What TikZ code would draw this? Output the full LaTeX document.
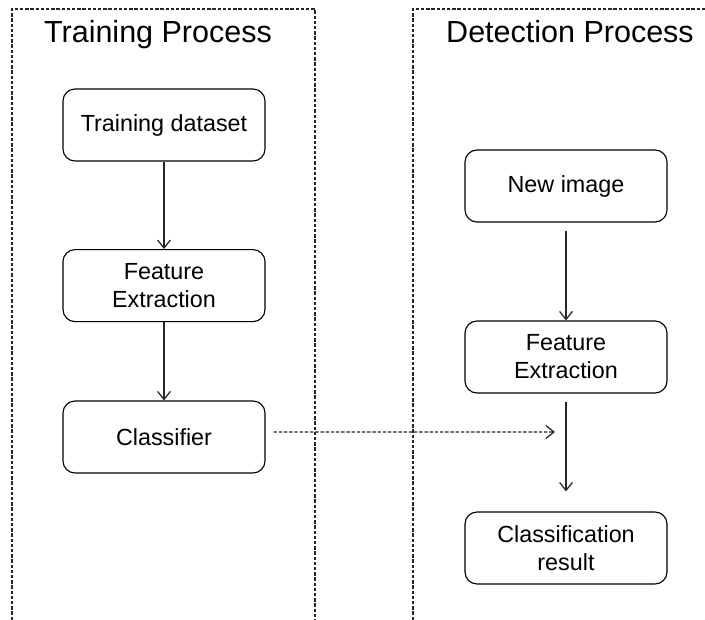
\documentclass[tikz,border=0pt]{standalone}
\usepackage{fontspec}
\setmainfont{Liberation Sans}
\usetikzlibrary{arrows.meta}

\tikzset{
    etape/.style={draw, line width=0.8pt, rounded corners=0.3cm,
        minimum width=5.05cm, minimum height=1.8cm, align=center,
        font=\fontsize{16.6}{19.9}\selectfont},
    cadre/.style={line width=1pt, dash pattern=on 2.4pt off 1.3pt, black!85},
    titre/.style={anchor=base, font=\fontsize{21.7}{26}\selectfont},
    fleche/.style={-{Straight Barb[length=2mm, width=3.2mm, line width=0.9pt]},
        line width=0.9pt, black!85}
}

\begin{document}
\begin{tikzpicture}

\useasboundingbox (0,0) rectangle (17.625,15.5);

% Cadres
\draw[cadre] (0.3,0) -- (0.3,15.275) -- (7.875,15.275) -- (7.875,0);
\draw[cadre] (10.325,0) -- (10.325,15.275) -- (17.7,15.275);

\node[titre] (tp) at (3.95,14.425) {Training Process};
\node[titre] (dp) at (14.25,14.425) {Detection Process};

% Apprentissage
\node[etape] (data) at (4.1,12.375) {Training dataset};
\node[etape] (fe1) at (4.1,8.36) {Feature\\Extraction};
\node[etape] (cls) at (4.1,4.575) {Classifier};

\draw[fleche] (data) -- (fe1);
\draw[fleche] (fe1) -- (cls);

% Detection
\node[etape] (img) at (14.15,10.85) {New image};
\node[etape] (fe2) at (14.15,6.575) {Feature\\Extraction};
\node[etape] (res) at (14.15,1.8) {Classification\\result};

\draw[fleche, shorten <=0.2cm] (img) -- (fe2);
\draw[fleche, shorten <=0.22cm, shorten >=0.5cm] (fe2) -- (res);

\coordinate (cible) at (13.875,4.7);
\draw[fleche, dash pattern=on 2.4pt off 1.3pt]
    ([xshift=0.2cm, yshift=0.125cm]cls.east) -- (cible);

\end{tikzpicture}
\end{document}
